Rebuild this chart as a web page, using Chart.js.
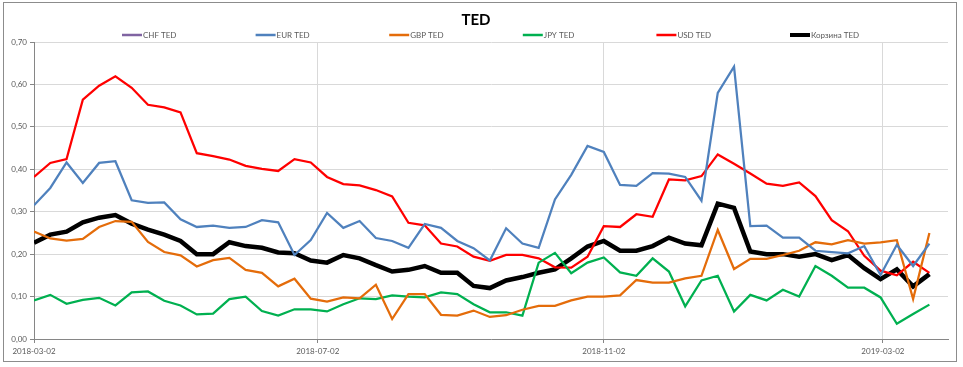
<!DOCTYPE html>
<html>
<head>
<meta charset="utf-8">
<script src="https://cdn.jsdelivr.net/npm/chart.js@4.4.1/dist/chart.umd.min.js"></script>
<style>
  body { margin: 0; background: #fff; }
  #frame { position: absolute; left: 3px; top: 2px; width: 954px; height: 360px; border: 1px solid #8c8c8c; box-sizing: border-box; }
  #box { position: relative; width: 952px; height: 358px; }
</style>
</head>
<body>
<div id="frame"><div id="box"><canvas id="myChart"></canvas></div></div>
<script>
// weekly dates (x categories)
const dates = [
  '2018-03-02', '2018-03-09', '2018-03-16', '2018-03-23', '2018-03-30',
  '2018-04-06', '2018-04-13', '2018-04-20', '2018-04-27',
  '2018-05-04', '2018-05-11', '2018-05-18', '2018-05-25',
  '2018-06-01', '2018-06-08', '2018-06-15', '2018-06-22', '2018-06-29',
  '2018-07-06', '2018-07-13', '2018-07-20', '2018-07-27',
  '2018-08-03', '2018-08-10', '2018-08-17', '2018-08-24', '2018-08-31',
  '2018-09-07', '2018-09-14', '2018-09-21', '2018-09-28',
  '2018-10-05', '2018-10-12', '2018-10-19', '2018-10-26',
  '2018-11-02', '2018-11-09', '2018-11-16', '2018-11-23', '2018-11-30',
  '2018-12-07', '2018-12-14', '2018-12-21', '2018-12-28',
  '2019-01-04', '2019-01-11', '2019-01-18', '2019-01-25',
  '2019-02-01', '2019-02-08', '2019-02-15', '2019-02-22',
  '2019-03-01', '2019-03-08', '2019-03-15', '2019-03-22'
];

const tickLabels = ['2018-03-02', '2018-07-02', '2018-11-02', '2019-03-02'];
const axisEnd = '2019-03-30';

const chfTed = [];
const eurTed = [
  0.315, 0.356, 0.416, 0.368, 0.415, 0.419, 0.327, 0.321, 0.322, 0.282,
  0.264, 0.267, 0.262, 0.264, 0.280, 0.275, 0.198, 0.233, 0.297, 0.262,
  0.278, 0.238, 0.231, 0.215, 0.271, 0.262, 0.231, 0.214, 0.185, 0.261,
  0.225, 0.215, 0.329, 0.387, 0.455, 0.441, 0.363, 0.361, 0.391, 0.390,
  0.382, 0.326, 0.580, 0.642, 0.266, 0.267, 0.239, 0.239, 0.208, 0.205,
  0.202, 0.219, 0.151, 0.222, 0.172, 0.225
];
const gbpTed = [
  0.253, 0.237, 0.232, 0.236, 0.264, 0.278, 0.276, 0.229, 0.205, 0.197,
  0.171, 0.186, 0.191, 0.163, 0.156, 0.124, 0.142, 0.095, 0.088, 0.098,
  0.096, 0.128, 0.047, 0.106, 0.106, 0.057, 0.055, 0.067, 0.052, 0.056,
  0.069, 0.078, 0.078, 0.091, 0.100, 0.100, 0.103, 0.139, 0.133, 0.133,
  0.143, 0.149, 0.257, 0.165, 0.189, 0.189, 0.198, 0.208, 0.228, 0.223,
  0.233, 0.225, 0.228, 0.233, 0.094, 0.250
];
const jpyTed = [
  0.091, 0.104, 0.083, 0.092, 0.097, 0.079, 0.110, 0.112, 0.090, 0.079,
  0.058, 0.060, 0.094, 0.100, 0.066, 0.055, 0.070, 0.070, 0.065, 0.082,
  0.096, 0.094, 0.103, 0.100, 0.098, 0.110, 0.106, 0.082, 0.063, 0.063,
  0.055, 0.180, 0.203, 0.155, 0.180, 0.192, 0.157, 0.149, 0.190, 0.159,
  0.077, 0.138, 0.149, 0.065, 0.104, 0.091, 0.116, 0.100, 0.172, 0.149,
  0.121, 0.121, 0.098, 0.036, 0.059, 0.081
];
const usdTed = [
  0.382, 0.415, 0.424, 0.564, 0.597, 0.619, 0.592, 0.552, 0.546, 0.534,
  0.438, 0.431, 0.423, 0.408, 0.401, 0.396, 0.424, 0.416, 0.382, 0.365,
  0.362, 0.351, 0.336, 0.274, 0.268, 0.225, 0.218, 0.194, 0.184, 0.198,
  0.198, 0.190, 0.169, 0.168, 0.194, 0.266, 0.264, 0.294, 0.288, 0.376,
  0.374, 0.384, 0.435, 0.413, 0.390, 0.366, 0.361, 0.369, 0.337, 0.280,
  0.254, 0.196, 0.161, 0.150, 0.182, 0.156
];
const basketTed = [
  0.227, 0.246, 0.253, 0.275, 0.286, 0.292, 0.272, 0.258, 0.246, 0.231,
  0.200, 0.200, 0.228, 0.219, 0.215, 0.204, 0.202, 0.185, 0.180, 0.198,
  0.190, 0.174, 0.159, 0.163, 0.172, 0.156, 0.156, 0.125, 0.120, 0.138,
  0.146, 0.156, 0.164, 0.190, 0.218, 0.231, 0.208, 0.208, 0.219, 0.239,
  0.225, 0.221, 0.319, 0.309, 0.206, 0.200, 0.200, 0.194, 0.200, 0.186,
  0.198, 0.167, 0.141, 0.164, 0.124, 0.153
];

const seriesNames = ['CHF TED', 'EUR TED', 'GBP TED', 'JPY TED', 'USD TED', 'Корзина TED'];

const dayMs = 864e5;
const start = Date.parse(dates[0] + 'T00:00:00Z');
const toDay = d => Math.round((Date.parse(d + 'T00:00:00Z') - start) / dayMs);
const points = arr => arr.map((v, i) => ({ x: toDay(dates[i]), y: v }));
const tickDays = tickLabels.map(toDay);

const FONT = 'Lato, "Noto Sans", sans-serif';
Chart.defaults.font.family = FONT;
Chart.defaults.font.size = 8;
Chart.defaults.color = '#595959';

// Excel style legend: equal slots, drawn on top
const slotLegend = {
  id: 'slotLegend',
  afterDraw(chart) {
    const ctx = chart.ctx;
    ctx.save();
    ctx.font = '8px ' + FONT;
    ctx.textBaseline = 'middle';
    chart.data.datasets.forEach((ds, i) => {
      const x = 118 + i * 133.6;
      const y = 32;
      ctx.strokeStyle = ds.borderColor;
      ctx.lineWidth = ds.borderWidth > 3 ? 4 : 2.5;
      ctx.beginPath();
      ctx.moveTo(x, y);
      ctx.lineTo(x + 20, y);
      ctx.stroke();
      ctx.fillStyle = '#595959';
      ctx.fillText(ds.label, x + 21, y + 0.5);
    });
    ctx.restore();
  }
};

const line = (label, data, color, width) => ({
  label: label,
  data: points(data),
  borderColor: color,
  backgroundColor: color,
  borderWidth: width,
  pointRadius: 0,
  tension: 0
});

const ctx = document.getElementById('myChart').getContext('2d');
const myChart = new Chart(ctx, {
  type: 'line',
  data: {
    datasets: [
      line(seriesNames[0], chfTed, '#8064a2', 2.25),
      line(seriesNames[1], eurTed, '#4f81bd', 2.25),
      line(seriesNames[2], gbpTed, '#e46c0a', 2.25),
      line(seriesNames[3], jpyTed, '#00b050', 2.25),
      line(seriesNames[4], usdTed, '#ff0000', 2.25),
      line(seriesNames[5], basketTed, '#000000', 4.5)
    ]
  },
  options: {
    responsive: true,
    maintainAspectRatio: false,
    animation: false,
    layout: { padding: { left: 0, right: 8, top: 0, bottom: 0 } },
    plugins: {
      legend: { display: false },
      tooltip: { enabled: false },
      title: {
        display: true,
        text: 'TED',
        color: '#000',
        font: { size: 15, weight: 'bold', family: FONT },
        padding: { top: 8, bottom: 13 }
      }
    },
    scales: {
      x: {
        type: 'linear',
        min: 0,
        max: toDay(axisEnd),
        afterBuildTicks: scale => { scale.ticks = tickDays.map(v => ({ value: v })); },
        afterFit: scale => { scale.height = 22; },
        ticks: {
          autoSkip: false,
          maxRotation: 0,
          padding: 4,
          callback: v => tickLabels[tickDays.indexOf(v)] || ''
        },
        grid: { color: '#d9d9d9', tickColor: '#868686', tickLength: 4 },
        border: { color: '#868686' }
      },
      y: {
        min: 0,
        max: 0.7,
        afterFit: scale => { scale.width = 30; },
        ticks: {
          stepSize: 0.1,
          padding: 3,
          callback: v => v.toFixed(2).replace('.', ',')
        },
        grid: { color: '#d9d9d9', tickColor: '#868686', tickLength: 4 },
        border: { color: '#868686' }
      }
    }
  },
  plugins: [slotLegend]
});
</script>
</body>
</html>
